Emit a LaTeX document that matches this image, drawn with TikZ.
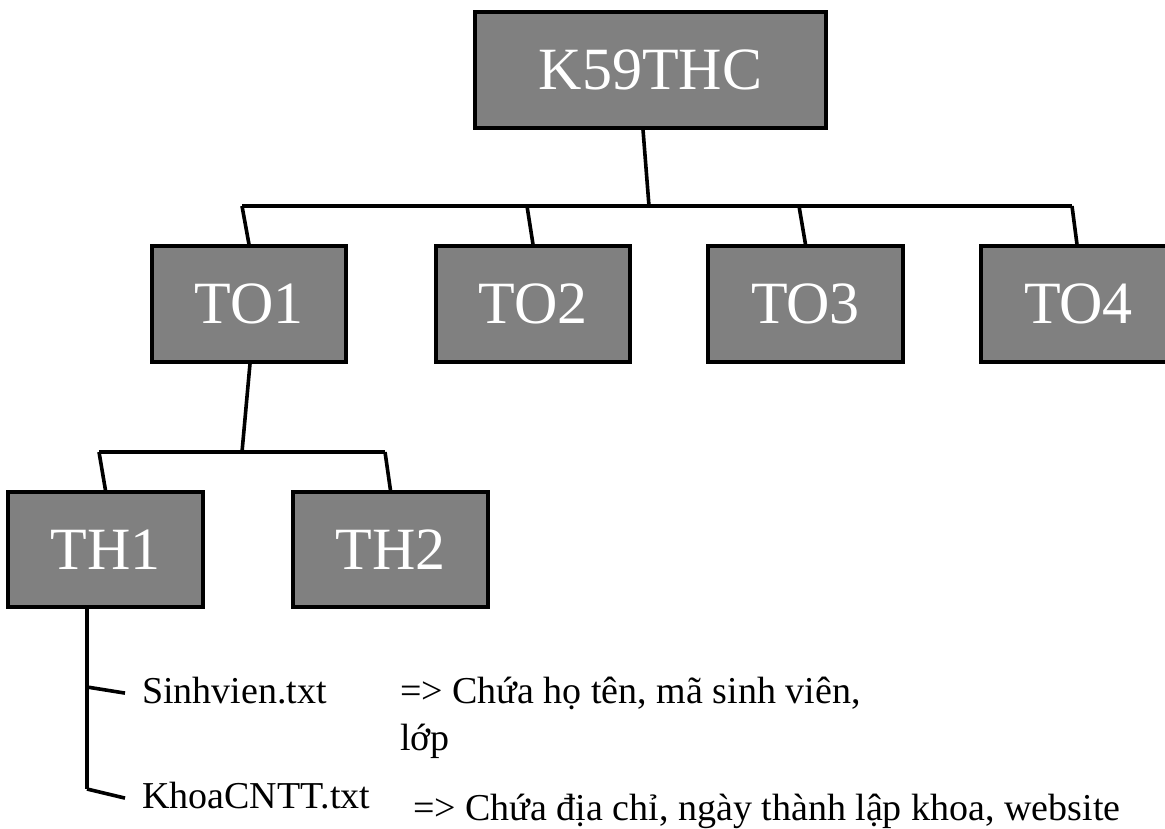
\documentclass[tikz,border=0pt]{standalone}
\usepackage{fontspec}
\setmainfont{Liberation Serif}
\definecolor{boxgray}{RGB}{128,128,128}
\begin{document}
\begin{tikzpicture}[x=1pt,y=-1pt,
  orgbox/.style={draw=black,line width=3.3pt,fill=boxgray,text=white,
    inner sep=0pt,font=\fontsize{60}{72}\selectfont},
  conn/.style={line width=3.6pt,line join=miter,line cap=butt},
  filetxt/.style={anchor=base west,inner sep=0pt,font=\fontsize{38}{46}\selectfont}]
\useasboundingbox (0,0) rectangle (1165,828);
\clip (0,0) rectangle (1165,828);
% boxes
\node[orgbox,minimum width=351pt,minimum height=116pt] (K) at (650.5,70) {K59THC};
\node[orgbox,minimum width=194pt,minimum height=116pt] (T1) at (249,304) {TO1};
\node[orgbox,minimum width=194pt,minimum height=116pt] (T2) at (533,304) {TO2};
\node[orgbox,minimum width=195pt,minimum height=116pt] (T3) at (805.5,304) {TO3};
\node[orgbox,minimum width=195pt,minimum height=116pt] (T4) at (1078.5,304) {TO4};
\node[orgbox,minimum width=195pt,minimum height=115pt] (H1) at (105.5,549.5) {TH1};
\node[orgbox,minimum width=195pt,minimum height=115pt] (H2) at (390.5,549.5) {TH2};
% bar coordinates
\coordinate (bk) at (649,206);
\coordinate (b1) at (242,206);
\coordinate (b2) at (527,206);
\coordinate (b3) at (799,206);
\coordinate (b4) at (1072,206);
\coordinate (c0) at (242,452);
\coordinate (c1) at (99,452);
\coordinate (c2) at (385,452);
\coordinate (s1) at (87,687);
\coordinate (s2) at (87,789);
% file labels
\node[filetxt] (f1) at (142,703) {Sinhvien.txt};
\node[filetxt] (f2) at (142,808) {KhoaCNTT.txt};
\node[filetxt] (d1) at (400,703) {=> Chứa họ tên, mã sinh viên,};
\node[filetxt] (d1b) at (400,750) {lớp};
\node[filetxt] (d2) at (413,820) {=> Chứa địa chỉ, ngày thành lập khoa, website};
% connectors
\draw[conn] ([xshift=-7.5pt]K.south) -- (bk);
\draw[conn] (b1) -- (b4);
\draw[conn] (b1) -- (T1.north);
\draw[conn] (b2) -- (T2.north);
\draw[conn] (b3) -- (T3.north);
\draw[conn] (b4) -- ([xshift=-1.5pt]T4.north);
\draw[conn] ([xshift=1pt]T1.south) -- (c0);
\draw[conn] (c1) -- (c2);
\draw[conn] (c1) -- (H1.north);
\draw[conn] (c2) -- (H2.north);
\draw[conn] ([xshift=-18.5pt]H1.south) -- (s2);
\draw[conn] (s1) -- ([xshift=-17pt,yshift=-3pt]f1.west);
\draw[conn] (s2) -- ([xshift=-17pt,yshift=-3pt]f2.west);
\end{tikzpicture}
\end{document}
